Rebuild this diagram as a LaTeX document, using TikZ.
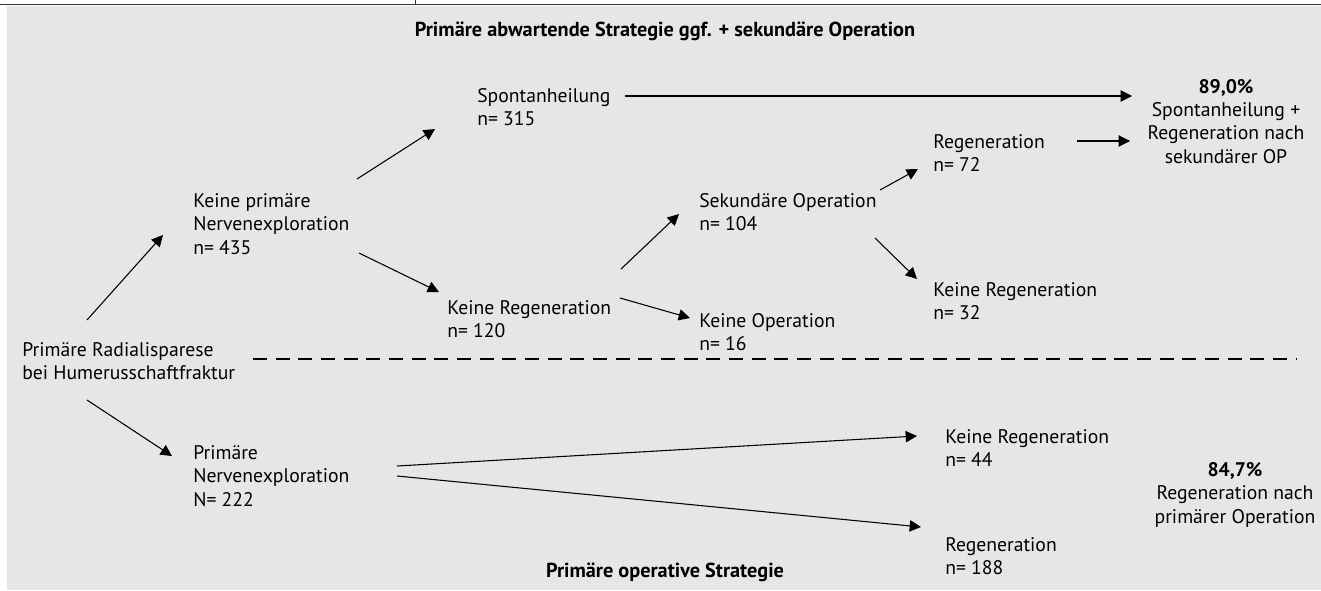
\documentclass[tikz,border=0pt]{standalone}
\usepackage{fontspec}
\setmainfont{PT Sans}
\usetikzlibrary{arrows.meta}
\definecolor{panelGray}{HTML}{E6E6E6}
\tikzstyle{flowArrow} = [line width=0.8pt, -{Triangle[length=8.5pt,width=8.5pt]}]
\tikzstyle{stepText} = [inner sep=0, anchor=base west, align=left,
   font=\fontsize{14.75pt}{17.6pt}\selectfont]
\tikzstyle{resultText} = [inner sep=0, anchor=base, align=center,
   font=\fontsize{14.75pt}{17.6pt}\selectfont]
\tikzstyle{headText} = [inner sep=0, anchor=base,
   font=\fontsize{15.2pt}{17.6pt}\selectfont\bfseries]

\begin{document}
\begin{tikzpicture}[x=0.75pt, y=-0.75pt]
  \useasboundingbox (0,0) rectangle (1321,590);
  \fill[panelGray] (7,6) rectangle (1321,590);
  \draw[line width=1.1pt, black!80] (0,4.5) -- (1321,4.5);
  \draw[line width=0.6pt, black!80] (415,0) -- (415,4.5);

  % text nodes, placed at the baseline of their last line
  \node[headText] (waitHead) at (665,36) {Primäre abwartende Strategie ggf. + sekundäre Operation};
  \node[headText] (opHead) at (665,577) {Primäre operative Strategie};

  \node[stepText] (root) at (22,379.5) {Primäre Radialisparese\\bei Humerusschaftfraktur};
  \node[stepText] (noExpl) at (193,254) {Keine primäre\\Nervenexploration\\n= 435};
  \node[stepText] (expl) at (193,506) {Primäre\\Nervenexploration\\N= 222};
  \node[stepText] (spont) at (477,125.5) {Spontanheilung\\n= 315};
  \node[stepText] (noReg) at (447,337.5) {Keine Regeneration\\n= 120};
  \node[stepText] (secOp) at (699,230.5) {Sekundäre Operation\\n= 104};
  \node[stepText] (noOp) at (699,350.5) {Keine Operation\\n= 16};
  \node[stepText] (secReg) at (933,171.5) {Regeneration\\n= 72};
  \node[stepText] (secNoReg) at (933,319.5) {Keine Regeneration\\n= 32};
  \node[stepText] (primNoReg) at (945,466.5) {Keine Regeneration\\n= 44};
  \node[stepText] (primReg) at (945,574.5) {Regeneration\\n= 188};
  \node[resultText] (waitRes) at (1226,163.4) {\textbf{89,0\%}\\Spontanheilung +\\Regeneration nach\\sekundärer OP};
  \node[resultText] (opRes) at (1235,523) {\textbf{84,7\%}\\Regeneration nach\\primärer Operation};

  % separator between the two strategies
  \draw[line width=1.9pt, dash pattern=on 10.5pt off 6.5pt] (253,359) -- (1297,359);

  % arrows
  \draw[flowArrow] ([shift={(65,-59.5)}]root.base west) -- ([shift={(-30,-19)}]noExpl.base west);
  \draw[flowArrow] ([shift={(65,20.5)}]root.base west) -- ([shift={(-21,-50)}]expl.base west);
  \draw[flowArrow] ([shift={(164,-75)}]noExpl.base west) -- ([shift={(-42,3.5)}]spont.base west);
  \draw[flowArrow] ([shift={(166,-1)}]noExpl.base west) -- ([shift={(-8,-45.5)}]noReg.base west);
  \draw[flowArrow] ([shift={(148,-29.5)}]spont.base west) -- ([shift={(-94,-67.4)}]waitRes.base);
  \draw[flowArrow] ([shift={(174,-68.5)}]noReg.base west) -- ([shift={(-20,-16.5)}]secOp.base west);
  \draw[flowArrow] ([shift={(173,-39.5)}]noReg.base west) -- ([shift={(-9,-32.5)}]noOp.base west);
  \draw[flowArrow] ([shift={(181,-40.5)}]secOp.base west) -- ([shift={(-15,-2.5)}]secReg.base west);
  \draw[flowArrow] ([shift={(176,7.5)}]secOp.base west) -- ([shift={(-16,-40.5)}]secNoReg.base west);
  \draw[flowArrow] ([shift={(144,-30.5)}]secReg.base west) -- ([shift={(-96,-22.4)}]waitRes.base);
  \draw[flowArrow] ([shift={(204,-40)}]expl.base west) -- ([shift={(-28,-30.5)}]primNoReg.base west);
  \draw[flowArrow] ([shift={(204,-30)}]expl.base west) -- ([shift={(-24,-47.5)}]primReg.base west);
\end{tikzpicture}
\end{document}
